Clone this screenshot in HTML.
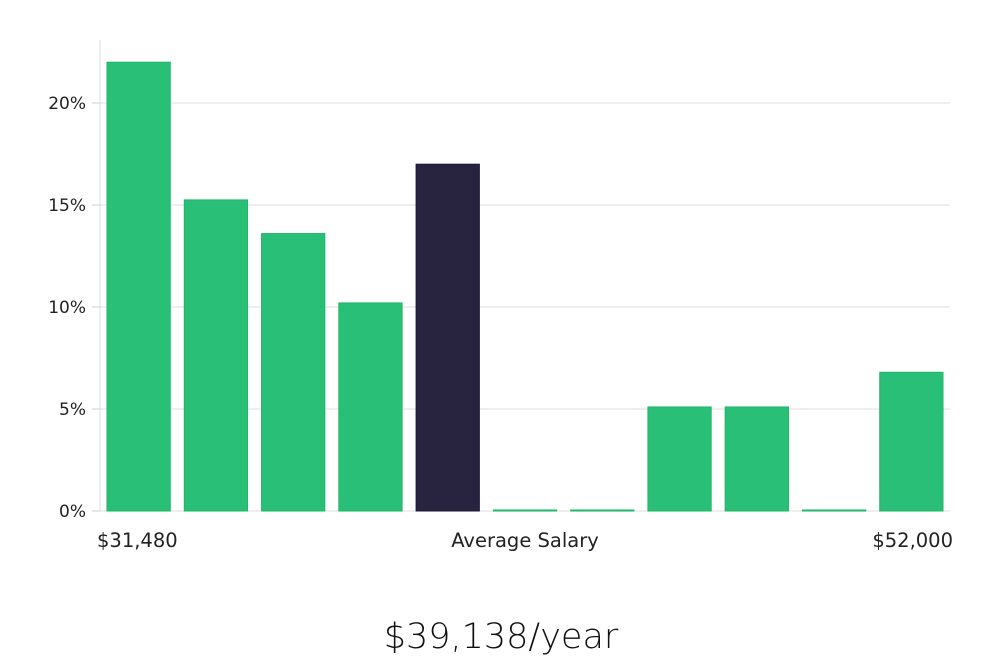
<!DOCTYPE html>
<html><head><meta charset="utf-8"><style>
body{margin:0;background:#fff;width:1000px;height:660px;overflow:hidden}
text{font-family:"DejaVu Sans","Liberation Sans",sans-serif}
</style></head><body>
<svg id="c" width="1000" height="660"></svg>
<script>
const categories=["b1","b2","b3","b4","avg","b6","b7","b8","b9","b10","b11"];
const values=[22,15.25,13.6,10.2,17,0,0,5.1,5.1,0,6.8];
const highlight=[false,false,false,false,true,false,false,false,false,false,false];
const yTicks=[0,5,10,15,20];
const yTickLabels=["0%","5%","10%","15%","20%"];
const svg=document.getElementById('c');
const NS='http://www.w3.org/2000/svg';
const X0=100,X1=950,Y0=511,PXPER=408/20;
const y=v=>Y0-v*PXPER;
const band=(X1-X0)/categories.length;
const x=i=>X0+i*band+7;
function mk(t,a){const e=document.createElementNS(NS,t);for(const k in a)e.setAttribute(k,a[k]);svg.appendChild(e);return e;}
yTicks.forEach((t,i)=>{
 const g=mk('line',{x1:X0,x2:X1,y1:y(t),y2:y(t),stroke:'#dcdcdc','stroke-width':1});
 
 
 const tk=mk('line',{x1:92,x2:X0,y1:y(t),y2:y(t),stroke:'#ccc'});
 
 
 const l=mk('text',{x:86,y:y(t)+6,'text-anchor':'end','font-size':17,fill:'#222'});
 l.textContent=yTickLabels[i];
 
 
});
const ax=mk('line',{x1:X0,x2:X0,y1:40,y2:Y0,stroke:'#dcdcdc'});


values.forEach((v,i)=>{
 const h=Math.max(v*PXPER,1);
 const r=mk('rect',{x:x(i),y:Y0-h,width:band-14,height:h,
  fill:highlight[i]?'#28233f':'#2abf76',stroke:highlight[i]?'#1c1836':'#1fb56b','stroke-width':1});
 
 
});
[[97,'start','$31,480'],[525,'middle','Average Salary'],[953,'end','$52,000']].forEach(a=>{
 const t=mk('text',{x:a[0],y:547,'text-anchor':a[1],'font-size':19.5,fill:'#222'});
 t.textContent=a[2];
 
 
});
const ti=mk('text',{x:501,y:648,'text-anchor':'middle','font-size':35,fill:'#111','font-weight':300});
ti.textContent='$39,138/year';


</script>
</body></html>
